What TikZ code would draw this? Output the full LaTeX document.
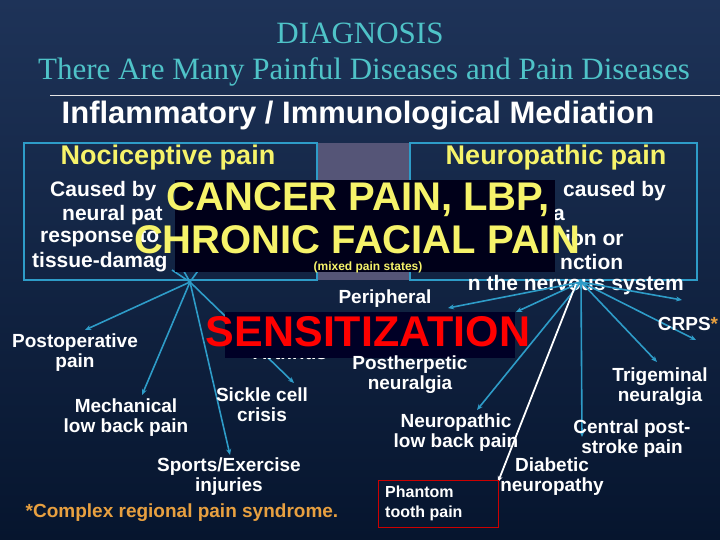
\documentclass[tikz,border=0pt]{standalone}
\usepackage{fontspec}
\setmainfont{Liberation Serif}
\setsansfont{Liberation Sans}
\usetikzlibrary{arrows.meta}
\definecolor{bgtop}{HTML}{1E3358}
\definecolor{bgbot}{HTML}{06152E}
\definecolor{teal}{HTML}{4FC3C8}
\definecolor{spoke}{HTML}{2E9CC8}
\definecolor{yel}{HTML}{F6F36A}
\definecolor{org}{HTML}{E8A040}
\begin{document}
\begin{tikzpicture}[x=1pt,y=-1pt,
 lab/.style={font=\sffamily\bfseries\fontsize{19}{20}\selectfont,text=white,align=center,inner sep=0pt},
 side/.style={font=\sffamily\bfseries\fontsize{21}{22}\selectfont,text=white,inner sep=0pt},
 sp/.style={draw=spoke,line width=1.6pt,-{Stealth[length=6pt,width=5pt]}},
 boxl/.style={draw=spoke,line width=1.5pt}]
\shade[top color=bgtop,bottom color=bgbot] (0,0) rectangle (720,540);
\useasboundingbox (0,0) rectangle (720,540);
\node[font=\fontsize{31}{33}\selectfont,text=teal] (t1) at (360,33) {DIAGNOSIS};
\node[font=\fontsize{31}{33}\selectfont,text=teal] (t2) at (364,72) {There Are Many Painful Diseases and Pain Diseases};
\draw[white!80!gray,line width=0.8pt] (50,95) -- (720,95);
\node[font=\sffamily\bfseries\fontsize{31}{33}\selectfont,text=white] (inf) at (358,116) {Inflammatory / Immunological Mediation};
% boxes
\fill[gray!55!blue!60!black] (317,143) rectangle (410,280);
\fill[gray,opacity=0.5] (317,143) rectangle (410,280);
\draw[boxl] (24,143) rectangle (317,280);
\draw[boxl] (410,143) rectangle (697,280);
\node[font=\sffamily\bfseries\fontsize{27}{29}\selectfont,text=yel] (noc) at (168,158) {Nociceptive pain};
\node[font=\sffamily\bfseries\fontsize{27}{29}\selectfont,text=yel] (neu) at (556,158) {Neuropathic pain};
\node[side,anchor=west] (l1) at (50,191) {Caused by};
\node[side,anchor=west] (l2) at (62,215) {neural pat};
\node[side,anchor=west] (l3) at (40,238) {response to};
\node[side,anchor=west] (l4) at (32,262) {tissue-damag};
\node[side,anchor=west] (r1) at (563,191) {caused by};
\node[side,anchor=west] (r2) at (553,215) {a};
\node[side,anchor=west] (r3) at (565,238) {ion or};
\node[side,anchor=west] (r4) at (560,262) {nction};
\node[side,anchor=east] (r5) at (684,285) {n the nervous system};
% spokes
\coordinate (hl) at (190,282);
\coordinate (hr) at (581,282);
\coordinate (e1) at (85,330); \coordinate (e2) at (142,395);
\coordinate (e3) at (230,455); \coordinate (e4) at (294,383);
\draw[sp] (hl) -- (e1); \draw[sp] (hl) -- (e2); \draw[sp] (hl) -- (e3);
\draw[sp] (hl) -- (e4);
\draw[spoke,line width=1.6pt] (hl) -- (172,270) (hl) -- (182,268) (hl) -- (200,268);
\coordinate (f1) at (448,308); \coordinate (f2) at (682,300);
\coordinate (f3) at (696,340); \coordinate (f4) at (657,362);
\coordinate (f5) at (582,437); \coordinate (f6) at (477,410);
\coordinate (f7) at (498,482); \coordinate (f8) at (516,312);
\draw[sp] (hr) -- (f1); \draw[sp] (hr) -- (f2); \draw[sp] (hr) -- (f3);
\draw[sp] (hr) -- (f4); \draw[sp] (hr) -- (f5); \draw[sp] (hr) -- (f6);
\draw[sp] (hr) -- (f8);
\draw[white,line width=1.8pt,-{Stealth[length=6pt,width=5pt]}] (576,284) -- (f7);
% black box
\fill[black!90!blue] (175,180) rectangle (555,272);
\node[font=\sffamily\bfseries\fontsize{40}{42}\selectfont,text=yel] (c1) at (358,200) {CANCER PAIN, LBP,};
\node[font=\sffamily\bfseries\fontsize{40}{42}\selectfont,text=yel] (c2) at (357,240) {CHRONIC FACIAL PAIN};
\node[font=\sffamily\bfseries\fontsize{12}{13}\selectfont,text=yel] (c3) at (368,267) {(mixed pain states)};
% labels
\node[lab] (per) at (385,299) {Peripheral};
\node[lab] (arth) at (290,353) {Arthritis};
\fill[black!85!blue] (225,312) rectangle (515,358);
\node[font=\sffamily\bfseries\fontsize{43}{45}\selectfont,text=red] (sens) at (368,332) {SENSITIZATION};
\node[lab] (ph) at (410,375) {Postherpetic\\neuralgia};
\node[lab] (po) at (75,353) {Postoperative\\pain};
\node[lab] (me) at (126,418) {Mechanical\\low back pain};
\node[lab] (si) at (262,405) {Sickle cell\\crisis};
\node[lab] (spo) at (229,477) {Sports/Exercise\\injuries};
\node[font=\sffamily\bfseries\fontsize{19}{20}\selectfont,text=org] (foot) at (182,513) {*Complex regional pain syndrome.};
\node[lab] (nl) at (456,433) {Neuropathic\\low back pain};
\node[lab] (cp) at (632,439) {Central post-\\stroke pain};
\node[lab] (di) at (552,477) {Diabetic\\neuropathy};
\node[lab] (tr) at (660,387) {Trigeminal\\neuralgia};
\node[lab] (cr) at (688,324) {CRPS\textcolor{org}{*}};
\draw[red!80!black,line width=0.8pt] (378,480) rectangle (498,527);
\node[lab,align=left,anchor=west,font=\sffamily\bfseries\fontsize{16}{20}\selectfont] (pt) at (385,503) {Phantom\\tooth pain};
\end{tikzpicture}
\end{document}
